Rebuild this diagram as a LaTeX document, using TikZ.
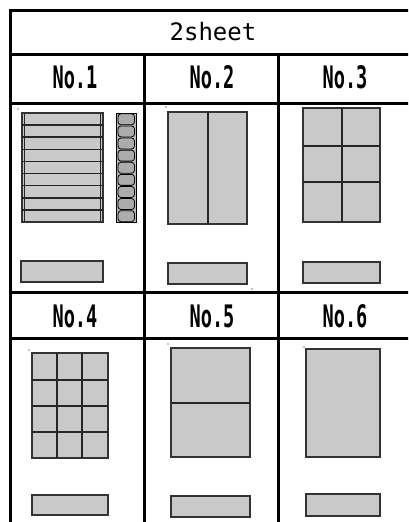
\documentclass[tikz,border=0pt]{standalone}
\usepackage{fontspec}
\newfontfamily\gothic{DejaVu Sans Mono}
\newcommand{\hdlabel}[1]{\scalebox{0.6}[1]{#1}}
\begin{document}
\begin{tikzpicture}[x=1pt,y=-1pt,
  rule/.style={line width=3pt,line cap=rect},
  sheet/.style={fill=gray!42,draw=black!80,line width=1.4pt},
  cutline/.style={draw=black!85,line width=1.5pt},
  bar/.style={fill=gray!42,draw=black!80,line width=1.2pt},
  seg/.style={fill=gray!65,draw=black,line width=0.8pt,rounded corners=3pt},
  speck/.style={fill=black,inner sep=0pt,minimum size=1.2pt,circle},
  titletext/.style={font=\gothic\fontsize{24}{24}\selectfont,anchor=base,inner sep=0pt},
  hdtext/.style={font=\gothic\bfseries\fontsize{31}{31}\selectfont,anchor=base,inner sep=0pt}]
\useasboundingbox (0,0) rectangle (408,522);
\clip (0,0) rectangle (408,522);
\fill[white] (0,0) rectangle (408,522);
% table rules
\draw[rule] (10,10) -- (420,10);
\draw[rule] (10,54) -- (420,54);
\draw[rule] (10,103) -- (420,103);
\draw[rule] (10,292) -- (420,292);
\draw[rule] (10,338) -- (420,338);
\draw[rule] (10,10) -- (10,530);
\draw[rule] (144,54) -- (144,530);
\draw[rule] (278,54) -- (278,530);
\draw[rule] (412,10) -- (412,530);
% texts
\node[titletext] (title) at (213,40) {2sheet};
\node[hdtext] (h1) at (75,88) {\hdlabel{No.1}};
\node[hdtext] (h2) at (212,88) {\hdlabel{No.2}};
\node[hdtext] (h3) at (345,88) {\hdlabel{No.3}};
\node[hdtext] (h4) at (75,327) {\hdlabel{No.4}};
\node[hdtext] (h5) at (212,327) {\hdlabel{No.5}};
\node[hdtext] (h6) at (345,327) {\hdlabel{No.6}};
% No.1
\node[speck] (s1) at (18,109) {};
\draw[sheet] (22,113) rectangle (103,222);
\draw[cutline] (24.5,113) -- (24.5,222);
\draw[cutline] (100.5,113) -- (100.5,222);
\foreach \k in {1,...,8} {
  \draw[cutline] (22,{113+\k*109/9}) -- (103,{113+\k*109/9});
}
\draw[fill=gray!55,draw=black,line width=0.9pt] (116,113) rectangle (136,222);
\foreach \k in {0,...,8} {
  \draw[seg] (118,{113.8+\k*109/9}) rectangle (134.5,{124.8+\k*109/9});
}
\draw[bar] (21,261) rectangle (103,282);
% No.2
\node[speck] (s2) at (166,107) {};
\draw[sheet] (168,112) rectangle (247,224);
\draw[cutline] (208,112) -- (208,224);
\draw[bar] (168,263) rectangle (247,284);
\node[speck] (s2b) at (252,289) {};
% No.3
\draw[sheet] (303,108) rectangle (380,222);
\draw[cutline] (342,108) -- (342,222);
\draw[cutline] (303,146) -- (380,146);
\draw[cutline] (303,182) -- (380,182);
\draw[bar] (303,262) rectangle (380,283);
% No.4
\node[speck] (s4) at (29,350) {};
\draw[sheet] (32,353) rectangle (108,458);
\draw[cutline] (57,353) -- (57,458);
\draw[cutline] (82,353) -- (82,458);
\draw[cutline] (32,380) -- (108,380);
\draw[cutline] (32,406) -- (108,406);
\draw[cutline] (32,432) -- (108,432);
\draw[bar] (32,495) rectangle (108,515);
% No.5
\node[speck] (s5) at (168,344) {};
\draw[sheet] (171,348) rectangle (250,457);
\draw[cutline] (171,403) -- (250,403);
\draw[bar] (171,496) rectangle (250,517);
% No.6
\node[speck] (s6) at (304,347) {};
\draw[sheet] (306,349) rectangle (380,457);
\draw[bar] (306,494) rectangle (380,516);
\end{tikzpicture}
\end{document}
